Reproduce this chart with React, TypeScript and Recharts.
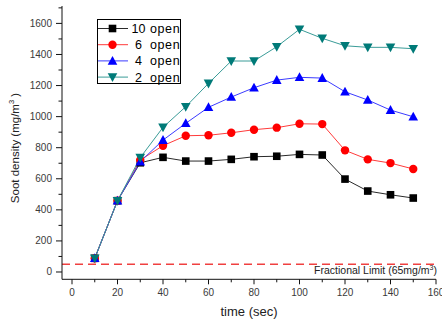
import React from "react";
import { LineChart, Line, XAxis, YAxis, ReferenceLine, Legend } from "recharts";

// time (sec)
const times = [10, 20, 30, 40, 50, 60, 70, 80, 90, 100, 110, 120, 130, 140, 150];

// soot density (mg/m3) per number of open vents
const open10 = [88, 459, 703, 738, 714, 714, 725, 742, 745, 757, 753, 598, 521, 497, 476];
const open6 = [88, 459, 721, 813, 877, 880, 896, 916, 929, 954, 952, 783, 725, 701, 663];
const open4 = [88, 459, 710, 849, 957, 1060, 1126, 1186, 1235, 1253, 1248, 1160, 1107, 1042, 999];
const open2 = [88, 459, 736, 931, 1064, 1214, 1358, 1358, 1450, 1562, 1504, 1456, 1446, 1446, 1437];

const legendNums = ["10", "6", "4", "2"];
const seriesKeys = ["o10", "o6", "o4", "o2"];
const lineColors = ["#2a2a2a", "#ff3b3b", "#3b3bff", "#3a9c98"];
const markColors = ["#000000", "#ff0000", "#0000ff", "#007a78"];
const shapes = ["square", "circle", "up", "down"];

const fractionalLimit = 50;

const xTicks = [0, 10, 20, 30, 40, 50, 60, 70, 80, 90, 100, 110, 120, 130, 140, 150, 160];
const yTicks = [0, 100, 200, 300, 400, 500, 600, 700, 800, 900, 1000, 1100, 1200, 1300, 1400, 1500, 1600, 1700];

const data = times.map((t, i) => ({
  t,
  o10: open10[i],
  o6: open6[i],
  o4: open4[i],
  o2: open2[i],
}));

const FONT = "'Liberation Sans', Arial, sans-serif";

function Marker({ cx, cy, shape, color }: { cx: number; cy: number; shape: string; color: string }) {
  if (shape === "square") {
    return <rect x={cx - 3.8} y={cy - 3.8} width={7.6} height={7.6} fill={color} />;
  }
  if (shape === "circle") {
    return <circle cx={cx} cy={cy} r={4.2} fill={color} />;
  }
  if (shape === "up") {
    return <polygon points={`${cx},${cy - 5} ${cx + 4.8},${cy + 3.8} ${cx - 4.8},${cy + 3.8}`} fill={color} />;
  }
  return <polygon points={`${cx},${cy + 5} ${cx + 4.8},${cy - 3.8} ${cx - 4.8},${cy - 3.8}`} fill={color} />;
}

const YTick = (props: any) => {
  const { x, y, payload } = props;
  const major = payload.value % 200 === 0 && payload.value <= 1600;
  return (
    <g>
      <line x1={x - (major ? 6 : 3.5)} x2={x} y1={y} y2={y} stroke="#111" />
      {major && (
        <text x={x - 10} y={y + 3.5} textAnchor="end" fontSize={10} fill="#3a3a3a" fontFamily={FONT}>
          {payload.value}
        </text>
      )}
    </g>
  );
};

const XTick = (props: any) => {
  const { x, y, payload } = props;
  const major = payload.value % 20 === 0;
  return (
    <g>
      <line x1={x} x2={x} y1={y} y2={y + (major ? 5 : 3)} stroke="#111" />
      {major && (
        <text x={x} y={y + 17} textAnchor="middle" fontSize={10} fill="#3a3a3a" fontFamily={FONT}>
          {payload.value}
        </text>
      )}
    </g>
  );
};

const LegendBox = () => (
  <svg width={85} height={66} style={{ display: "block" }}>
    <rect x={0.5} y={0.5} width={83} height={64} fill="#fff" stroke="#000" />
    {legendNums.map((n, i) => {
      const y = 9.5 + i * 16.2;
      return (
        <g key={n}>
          <line x1={1} x2={31} y1={y} y2={y} stroke={lineColors[i]} />
          <Marker cx={15.5} cy={y} shape={shapes[i]} color={markColors[i]} />
          <text x={41.5} y={y + 4.5} textAnchor="middle" fontSize={12.5} fill="#000" fontFamily={FONT}>
            {n}
          </text>
          <text x={53} y={y + 4.5} fontSize={12.5} fill="#000" fontFamily={FONT} letterSpacing={0.6}>
            open
          </text>
        </g>
      );
    })}
  </svg>
);

const LimitLabel = (props: any) => {
  const vb = props.viewBox || {};
  const right = vb.x + vb.width;
  return (
    <text x={right + 1} y={vb.y + 10} textAnchor="end" fontSize={10.5} fill="#222" fontFamily={FONT}>
      Fractional Limit (65mg/m
      <tspan dy={-4} fontSize={7}>3</tspan>
      <tspan dy={4}>)</tspan>
    </text>
  );
};

export default function App() {
  return (
    <div
      style={{
        position: "fixed",
        left: 0,
        top: 0,
        width: 442,
        height: 320,
        overflow: "hidden",
        background: "#fff",
      }}
    >
      <LineChart
        width={470}
        height={320}
        data={data}
        margin={{ top: 6, right: 34, left: 2, bottom: 10.7 }}
      >
        <XAxis
          dataKey="t"
          type="number"
          domain={[-4.4, 160]}
          ticks={xTicks}
          interval={0}
          tickSize={0}
          tickMargin={0}
          tickLine={false}
          tick={<XTick />}
          height={30}
          stroke="#111"
          allowDataOverflow
        />
        <YAxis
          type="number"
          domain={[-47, 1712]}
          ticks={yTicks}
          interval={0}
          tickSize={0}
          tickMargin={0}
          tickLine={false}
          tick={<YTick />}
          width={60}
          stroke="#111"
          allowDataOverflow
        />
        <ReferenceLine
          y={fractionalLimit}
          stroke="#f04040"
          strokeWidth={1.5}
          strokeDasharray="8 5"
          label={<LimitLabel />}
        />
        {seriesKeys.map((k, i) => (
          <Line
            key={k}
            dataKey={k}
            name={`${legendNums[i]} open`}
            stroke={lineColors[i]}
            strokeWidth={1}
            isAnimationActive={false}
            dot={(p: any) => (
              <Marker key={`${k}-${p.index}`} cx={p.cx} cy={p.cy} shape={shapes[i]} color={markColors[i]} />
            )}
            activeDot={false}
          />
        ))}
        <Legend
          layout="vertical"
          align="center"
          verticalAlign="middle"
          content={<LegendBox />}
          wrapperStyle={{ left: 97, top: 19, width: 85, height: 66 }}
        />
        <text x={15} y={148} transform="rotate(-90 15 148)" textAnchor="middle" fontSize={11.5} fill="#222" fontFamily={FONT} dy={4}>
          Soot density (mg/m
          <tspan dy={-5} fontSize={7.5}>3</tspan>
          <tspan dy={5}> )</tspan>
        </text>
        <text x={249} y={316} textAnchor="middle" fontSize={13} fill="#222" fontFamily={FONT}>
          time (sec)
        </text>
      </LineChart>
    </div>
  );
}
